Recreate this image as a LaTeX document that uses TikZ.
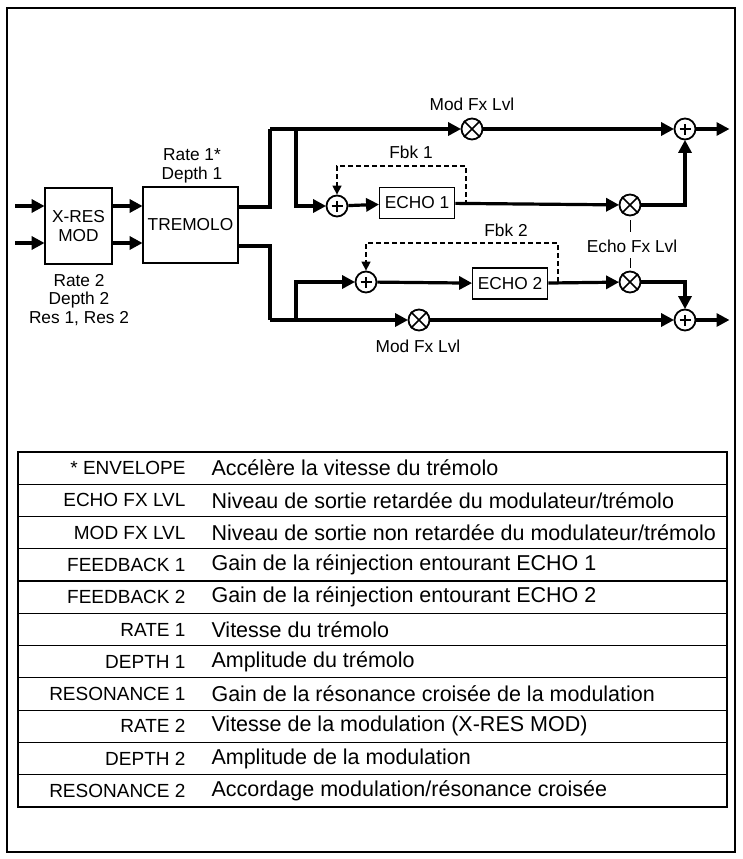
\documentclass[tikz,border=0pt]{standalone}
\usepackage{fontspec}
\setmainfont{Liberation Sans}
\usetikzlibrary{arrows.meta}
\begin{document}
\begin{tikzpicture}[x=1pt,y=-1pt,
  sig/.style={line width=3.2pt},
  arr/.style={sig,-{Triangle[length=13pt,width=13pt]},shorten >=-0.5pt},
  blk/.style={draw,line width=1.8pt,inner sep=0pt,font=\fontsize{17.3}{19}\selectfont},
  op/.style={draw,circle,line width=1.8pt,minimum size=21pt,inner sep=0pt},
  lbl/.style={font=\fontsize{17.3}{18.5}\selectfont,align=center,inner sep=1pt},
  fb/.style={line width=1.5pt,dash pattern=on 5pt off 3pt},
  tabk/.style={font=\fontsize{19}{22}\selectfont},
  tab/.style={font=\fontsize{21.5}{22}\selectfont}]
\useasboundingbox (0,0) rectangle (742,859);
\draw[line width=2pt] (7,8) rectangle (735,852);
% blocks
\node[blk,minimum width=67pt,minimum height=76pt,align=center] (xres) at (78.5,226) {X-RES\\MOD};
\node[blk,minimum width=95pt,minimum height=76pt] (trem) at (190.5,225) {TREMOLO};
\node[blk,minimum width=75pt,minimum height=31pt] (e1) at (417,203) {ECHO 1};
\node[blk,minimum width=75pt,minimum height=31pt] (e2) at (510,283.5) {ECHO 2};
% operators
\newcommand{\plusop}[3]{\node[op] (#1) at (#2,#3) {};\draw[line width=1.5pt] ([xshift=-5.5pt]#1.center)--([xshift=5.5pt]#1.center) ([yshift=-5.5pt]#1.center)--([yshift=5.5pt]#1.center);}
\newcommand{\multop}[3]{\node[op] (#1) at (#2,#3) {};\draw[line width=1.5pt] (#1.north east)--(#1.south west) (#1.north west)--(#1.south east);}
\plusop{s1}{337}{206}
\plusop{s2}{366}{282}
\plusop{so1}{685}{129}
\plusop{so2}{685}{320}
\multop{m1}{472}{129}
\multop{mt}{630}{205}
\multop{mb}{630}{282}
\multop{m2}{419}{320}
% coordinates
\coordinate (in1) at (15,206);
\coordinate (in2) at (15,243);
\coordinate (o1) at (729,129);
\coordinate (o2) at (729,320);
% inputs
\draw[arr] (in1) -- (in1 -| xres.west);
\draw[arr] (in2) -- (in2 -| xres.west);
\draw[arr] (xres.east |- in1) -- (trem.west |- in1);
\draw[arr] (xres.east |- in2) -- (trem.west |- in2);
% top path
\coordinate (ta) at (270,207);
\coordinate (tb) at (270,129);
\coordinate (tc) at (296,129);
\draw[sig] (trem.east |- ta) -- (ta) -- (tb);
\draw[arr] (tb) -- (m1);
\draw[arr] (m1) -- (so1);
\draw[arr] (so1) -- (o1);
\draw[arr] (tc) |- (s1);
\draw[arr] (s1) -- (e1);
\draw[arr] (e1) -- (mt);
\draw[arr] (mt) -| (so1);
% bottom path
\coordinate (ba) at (270,246);
\coordinate (bb) at (270,320);
\coordinate (bc) at (296,320);
\draw[sig] (trem.east |- ba) -- (ba) -- (bb);
\draw[arr] (bb) -- (m2);
\draw[arr] (m2) -- (so2);
\draw[arr] (so2) -- (o2);
\draw[arr] (bc) |- (s2);
\draw[arr] (s2) -- (e2);
\draw[arr] (e2) -- (mb);
\draw[arr] (mb) -| (so2);
% feedback
\coordinate (f1) at (466,205);
\coordinate (f2) at (558,282);
\draw[fb,-{Triangle[length=9pt,width=9pt]}] (f1) -- (466,166) -| (s1);
\draw[fb,-{Triangle[length=9pt,width=9pt]}] (f2) -- (558,243) -| (s2);
% labels
\node[lbl] (lm1) at (472,104) {Mod Fx Lvl};
\node[lbl] (lm2) at (418,346) {Mod Fx Lvl};
\node[lbl] (lf1) at (411,152) {Fbk 1};
\node[lbl] (lf2) at (506,230) {Fbk 2};
\node[lbl] (le) at (632,246) {Echo Fx Lvl};
\coordinate (ea) at (630,220);
\coordinate (eb) at (630,232);
\coordinate (ec) at (630,258);
\coordinate (ed) at (630,268);
\draw[line width=1pt] (ea) -- (eb);
\draw[line width=1pt] (ec) -- (ed);
\node[lbl] (lr1) at (192,166) {Rate 1*\\Depth 1};
\node[lbl] (lr2) at (79,300) {Rate 2\\Depth 2\\Res 1, Res 2};
% table
\draw[line width=2pt] (18,452) rectangle (727,807);
\foreach \i in {1,...,10} \draw[line width=1.2pt] (18,{452+\i*32.27}) -- (727,{452+\i*32.27});
\foreach [count=\i] \a/\b in {{* ENVELOPE}/{Accélère la vitesse du trémolo},
 {ECHO FX LVL}/{Niveau de sortie retardée du modulateur/trémolo},
 {MOD FX LVL}/{Niveau de sortie non retardée du modulateur/trémolo},
 {FEEDBACK 1}/{Gain de la réinjection entourant ECHO 1},
 {FEEDBACK 2}/{Gain de la réinjection entourant ECHO 2},
 {RATE 1}/{Vitesse du trémolo},
 {DEPTH 1}/{Amplitude du trémolo},
 {RESONANCE 1}/{Gain de la résonance croisée de la modulation},
 {RATE 2}/{Vitesse de la modulation (X-RES MOD)},
 {DEPTH 2}/{Amplitude de la modulation},
 {RESONANCE 2}/{Accordage modulation/résonance croisée}}
 {\node[tabk,anchor=east] (k\i) at (189,{452+(\i-0.5)*32.27}) {\a};
  \node[tab,anchor=west] (d\i) at (208,{452+(\i-0.5)*32.27}) {\b};}
\end{tikzpicture}
\end{document}
